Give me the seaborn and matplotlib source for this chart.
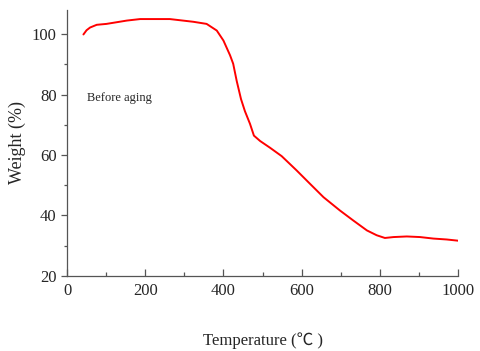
import numpy as np
import pandas as pd
import seaborn as sns
from matplotlib import pyplot as plt
from matplotlib.ticker import MultipleLocator

# TGA curve
temperature = [42, 50, 59, 76, 101, 153, 187, 263, 323, 357, 383, 400, 417, 425, 434,
               445, 455, 468, 478, 494, 519, 549, 587, 621, 656, 698, 732, 767, 792,
               813, 835, 869, 903, 937, 971, 1000]
weight = [99.9, 101.3, 102.2, 103.1, 103.4, 104.5, 105.0, 105.0, 104.1, 103.4, 101.2,
          97.9, 93.0, 90.2, 84.5, 78.5, 74.5, 70.3, 66.4, 64.6, 62.4, 59.6, 54.9, 50.5,
          46.0, 41.6, 38.3, 35.0, 33.4, 32.5, 32.8, 33.0, 32.8, 32.3, 32.0, 31.6]
x_ticks = [0, 200, 400, 600, 800, 1000]
y_ticks = [20, 40, 60, 80, 100]
note = 'Before aging'

df = pd.DataFrame({'temperature': temperature, 'weight': weight})

sns.set_style('ticks')
plt.rcParams['font.family'] = ['Liberation Serif', 'Noto Sans CJK SC', 'DejaVu Sans']

fig = plt.figure(figsize=(4.8, 3.51), dpi=100)
ax = fig.add_axes([0.1396, 0.2145, 0.8146, 0.757])

sns.lineplot(data=df, x='temperature', y='weight', color='#ff0000', linewidth=1.4, ax=ax)

ax.set_xlim(0, 1000)
ax.set_ylim(20, 108)
ax.set_xticks(x_ticks)
ax.set_yticks(y_ticks)
ax.xaxis.set_minor_locator(MultipleLocator(100))
ax.yaxis.set_minor_locator(MultipleLocator(10))
ax.tick_params(axis='x', which='major', direction='in', length=5, labelsize=12, pad=5)
ax.tick_params(axis='x', which='minor', direction='in', length=3)
ax.tick_params(axis='y', which='major', direction='out', length=4, labelsize=12)
ax.tick_params(axis='y', which='minor', direction='out', length=2.5)
ax.tick_params(which='both', color='#555555', width=0.9)
for s in ['top', 'right']:
    ax.spines[s].set_visible(False)
for s in ['left', 'bottom']:
    ax.spines[s].set_color('#555555')
    ax.spines[s].set_linewidth(0.9)

ax.set_xlabel('Temperature (℃ )', fontsize=12, labelpad=24)
ax.set_ylabel('Weight (%)', fontsize=13, labelpad=4)
ax.text(51, 79, note, fontsize=9, va='center', ha='left')

fig.savefig('out.png', dpi=100)
